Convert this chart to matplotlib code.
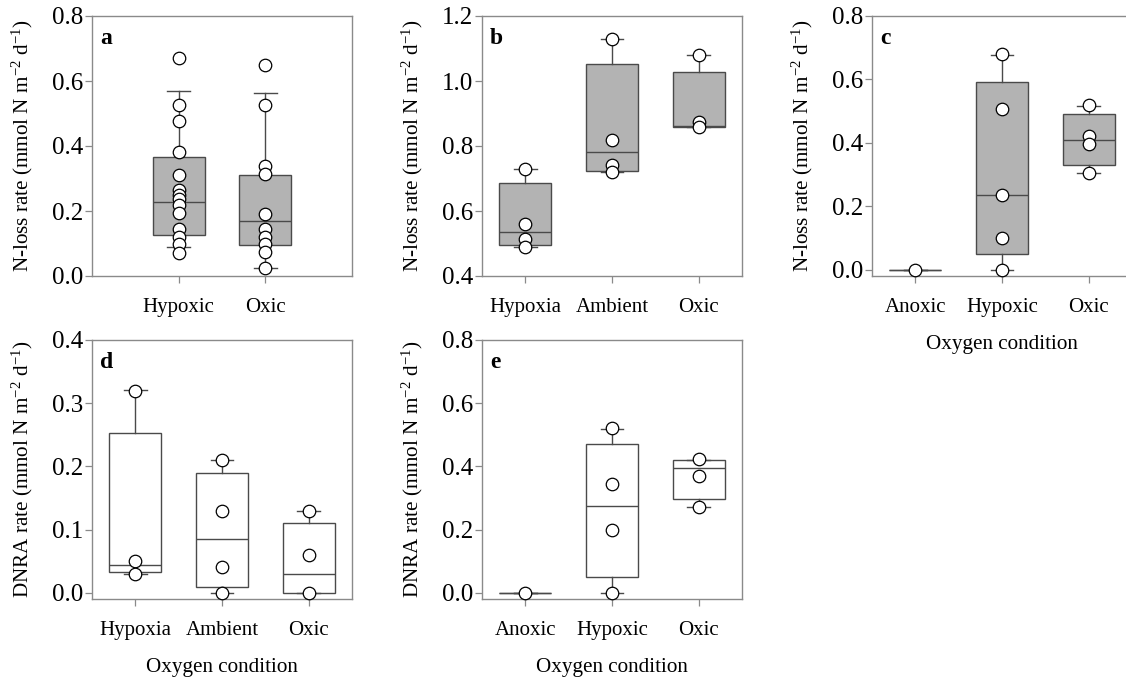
import matplotlib
matplotlib.use("Agg")
import matplotlib.pyplot as plt

plt.rcParams["font.family"] = ["Liberation Serif", "DejaVu Serif"]
plt.rcParams["mathtext.fontset"] = "custom"
plt.rcParams["mathtext.rm"] = "Liberation Serif"
plt.rcParams["mathtext.it"] = "Liberation Serif:italic"
plt.rcParams["mathtext.bf"] = "Liberation Serif:bold"

# panel a: N-loss rate, 2 groups
a_labels = ["Hypoxic", "Oxic"]
a_q1 = [0.125, 0.095]
a_med = [0.228, 0.168]
a_q3 = [0.365, 0.311]
a_lo = [0.088, 0.025]
a_hi = [0.570, 0.562]
a_points = [
    [0.672, 0.527, 0.478, 0.383, 0.312, 0.265, 0.250, 0.237, 0.217, 0.193, 0.145, 0.120, 0.097, 0.072],
    [0.648, 0.527, 0.338, 0.315, 0.192, 0.145, 0.120, 0.097, 0.073, 0.025],
]

# panel b: N-loss rate, incubation
b_labels = ["Hypoxia", "Ambient", "Oxic"]
b_q1 = [0.494, 0.724, 0.858]
b_med = [0.534, 0.780, 0.862]
b_q3 = [0.686, 1.051, 1.028]
b_lo = [0.490, 0.719, 0.858]
b_hi = [0.729, 1.129, 1.080]
b_points = [
    [0.730, 0.560, 0.513, 0.490],
    [1.130, 0.818, 0.742, 0.719],
    [1.080, 0.873, 0.857],
]

# panel c: N-loss rate, 3 oxygen conditions
c_labels = ["Anoxic", "Hypoxic", "Oxic"]
c_q1 = [0.0, 0.049, 0.331]
c_med = [0.0, 0.236, 0.408]
c_q3 = [0.0, 0.592, 0.491]
c_lo = [0.0, 0.0, 0.304]
c_hi = [0.0, 0.677, 0.518]
c_points = [
    [0.0],
    [0.680, 0.507, 0.236, 0.100, 0.0],
    [0.520, 0.423, 0.396, 0.305],
]

# panel d: DNRA rate, incubation
d_labels = ["Hypoxia", "Ambient", "Oxic"]
d_q1 = [0.032, 0.0095, 0.0]
d_med = [0.044, 0.085, 0.030]
d_q3 = [0.253, 0.190, 0.111]
d_lo = [0.030, 0.0, 0.0]
d_hi = [0.321, 0.210, 0.130]
d_points = [
    [0.320, 0.050, 0.030],
    [0.210, 0.130, 0.040, 0.0],
    [0.130, 0.060, 0.0],
]

# panel e: DNRA rate, 3 oxygen conditions
e_labels = ["Anoxic", "Hypoxic", "Oxic"]
e_q1 = [0.0, 0.050, 0.296]
e_med = [0.0, 0.274, 0.394]
e_q3 = [0.0, 0.472, 0.420]
e_lo = [0.0, 0.0, 0.272]
e_hi = [0.0, 0.517, 0.420]
e_points = [
    [0.0],
    [0.520, 0.345, 0.200, 0.0],
    [0.423, 0.369, 0.272],
]

nloss_label = r"N-loss rate (mmol N m$^{-2}$ d$^{-1}$)"
dnra_label = r"DNRA rate (mmol N m$^{-2}$ d$^{-1}$)"

frame_col = "#8a8a8a"
line_col = "#4a4a4a"


def draw_panel(ax, labels, q1, med, q3, lo, hi, points, fill, ylim, yticks, xlim,
               letter, ylabel, xlabel=None):
    stats = []
    for i in range(len(labels)):
        stats.append({"med": med[i], "q1": q1[i], "q3": q3[i],
                      "whislo": lo[i], "whishi": hi[i], "fliers": []})
    pos = list(range(1, len(labels) + 1))
    ax.bxp(stats, positions=pos, widths=0.6, capwidths=0.26, patch_artist=True,
           showfliers=False,
           boxprops=dict(facecolor=fill, edgecolor=line_col, linewidth=1.0),
           medianprops=dict(color=line_col, linewidth=1.0),
           whiskerprops=dict(color=line_col, linewidth=1.0),
           capprops=dict(color=line_col, linewidth=1.0))
    for i, pts in enumerate(points):
        ax.plot([pos[i]] * len(pts), pts, "o", ms=9, mfc="white", mec="black",
                mew=0.9, zorder=5, clip_on=False)
    ax.set_xlim(xlim)
    ax.set_ylim(ylim)
    ax.set_yticks(yticks)
    ax.set_yticklabels([f"{t:.1f}" for t in yticks])
    ax.set_xticks(pos)
    ax.set_xticklabels(labels)
    ax.tick_params(axis="both", direction="out", length=5, width=0.9, color=frame_col)
    ax.tick_params(axis="x", pad=11, labelsize=15)
    ax.tick_params(axis="y", pad=1.5, labelsize=18)
    for s in ax.spines.values():
        s.set_color(frame_col)
        s.set_linewidth(1.0)
    ax.text(0.03, 0.955, letter, transform=ax.transAxes, fontsize=17,
            fontweight="bold", va="top", ha="left")
    ax.set_ylabel(ylabel, fontsize=15.2, labelpad=12)
    if xlabel:
        ax.set_xlabel(xlabel, fontsize=15.2, labelpad=13)


W, H = 1126, 678
fig = plt.figure(figsize=(W / 100, H / 100), dpi=100)


def px_axes(left, top, right, bottom):
    return fig.add_axes([left / W, 1 - bottom / H, (right - left) / W, (bottom - top) / H])


ax_a = px_axes(92, 16, 352, 276)
ax_b = px_axes(482, 16, 742, 276)
ax_c = px_axes(872, 16, 1132, 276)
ax_d = px_axes(92, 340, 352, 599)
ax_e = px_axes(482, 340, 742, 599)

draw_panel(ax_a, a_labels, a_q1, a_med, a_q3, a_lo, a_hi, a_points, "#b3b3b3",
           (0, 0.8), [0.0, 0.2, 0.4, 0.6, 0.8], (0, 3), "a", nloss_label)
draw_panel(ax_b, b_labels, b_q1, b_med, b_q3, b_lo, b_hi, b_points, "#b3b3b3",
           (0.4, 1.2), [0.4, 0.6, 0.8, 1.0, 1.2], (0.5, 3.5), "b", nloss_label)
draw_panel(ax_c, c_labels, c_q1, c_med, c_q3, c_lo, c_hi, c_points, "#b3b3b3",
           (-0.019, 0.8), [0.0, 0.2, 0.4, 0.6, 0.8], (0.5, 3.5), "c", nloss_label,
           "Oxygen condition")
draw_panel(ax_d, d_labels, d_q1, d_med, d_q3, d_lo, d_hi, d_points, "white",
           (-0.010, 0.4), [0.0, 0.1, 0.2, 0.3, 0.4], (0.5, 3.5), "d", dnra_label,
           "Oxygen condition")
draw_panel(ax_e, e_labels, e_q1, e_med, e_q3, e_lo, e_hi, e_points, "white",
           (-0.020, 0.8), [0.0, 0.2, 0.4, 0.6, 0.8], (0.5, 3.5), "e", dnra_label,
           "Oxygen condition")

fig.savefig("out.png", dpi=100)
